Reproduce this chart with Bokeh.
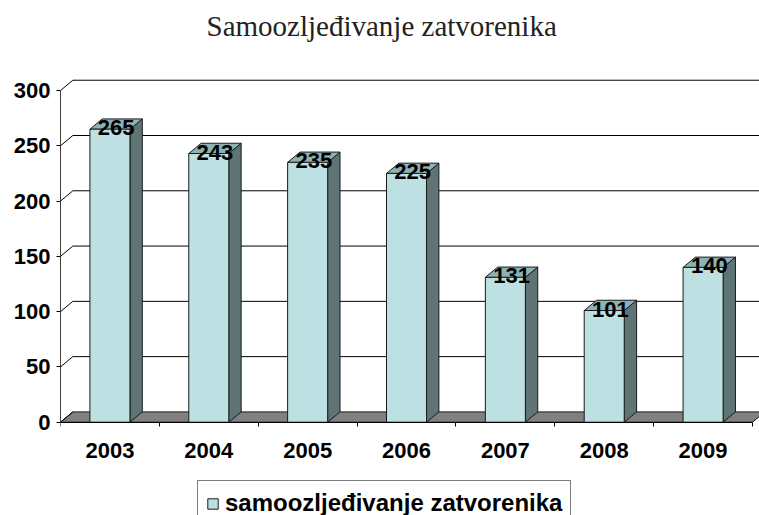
from bokeh.plotting import figure
from bokeh.models import Range1d, FixedTicker, Legend, LegendItem, ColumnDataSource, Title
from bokeh.core.properties import value
from bokeh.embed import file_html
from bokeh.resources import INLINE

# ---- data ----
years = ["2003", "2004", "2005", "2006", "2007", "2008", "2009"]
counts = [265, 243, 235, 225, 131, 101, 140]
y_ticks = [0, 50, 100, 150, 200, 250, 300]
title_text = "Samoozljeđivanje zatvorenika"
series_name = "samoozljeđivanje zatvorenika"

# ---- style ----
FRONT = "#BDE0E3"
SIDE = "#5F7575"
TOP = "#8DB2B4"
FLOOR = "#808080"
EDGE = "#1a1a1a"
bar_w = 0.405
dx = 0.125   # depth offset (category units)
dy = 9.3     # depth offset (value units)

n = len(years)
centers = [i + 0.5 for i in range(n)]

p = figure(width=759, height=515, output_backend="svg", toolbar_location=None,
           x_range=Range1d(0, 7.0706), y_range=Range1d(-84.4, 318.1),
           min_border_left=60, min_border_right=0, min_border_top=70, min_border_bottom=0,
           background_fill_color="white", border_fill_color="white")
p.outline_line_color = None
p.xgrid.visible = False
p.ygrid.visible = False

# title
p.title.text = title_text
p.title.text_font = "Liberation Serif"
p.title.text_font_size = "29px"
p.title.text_font_style = "normal"
p.title.text_color = "#222222"
p.title.align = "left"
p.title.offset = 146
p.title.standoff = 10
# blank spacer between title and plot area
p.add_layout(Title(text=" ", text_font_size="12px", standoff=8), "above")

# floor
p.patch(x=[0, n, n + dx, dx], y=[0, 0, dy, dy], fill_color=FLOOR, line_color=EDGE, line_width=1)

# back-wall gridlines and left-wall diagonals
grid_vals = [v for v in y_ticks if v > 0]
p.segment(x0=[dx] * len(grid_vals), y0=[v + dy for v in grid_vals],
          x1=[n + dx] * len(grid_vals), y1=[v + dy for v in grid_vals],
          line_color="black", line_width=1)
p.segment(x0=[0] * len(y_ticks), y0=y_ticks, x1=[dx] * len(y_ticks), y1=[v + dy for v in y_ticks],
          line_color="black", line_width=1)

# bars: side, top, front
lefts = [c - bar_w / 2 for c in centers]
rights = [c + bar_w / 2 for c in centers]
side_xs = [[r, r + dx, r + dx, r] for r in rights]
side_ys = [[0, dy, v + dy, v] for v in counts]
top_xs = [[l, r, r + dx, l + dx] for l, r in zip(lefts, rights)]
top_ys = [[v, v, v + dy, v + dy] for v in counts]
p.patches(xs=side_xs, ys=side_ys, fill_color=SIDE, line_color=EDGE, line_width=1)
p.patches(xs=top_xs, ys=top_ys, fill_color=TOP, line_color=EDGE, line_width=1)
src = ColumnDataSource(dict(left=lefts, right=rights, top=counts, bottom=[0] * n,
                            lx=[c + dx / 2 for c in centers], ly=[v + 1.3 for v in counts],
                            lab=[str(v) for v in counts]))
front = p.quad(left="left", right="right", top="top", bottom="bottom", source=src,
               fill_color=FRONT, line_color=EDGE, line_width=1)

# value labels
p.text(x="lx", y="ly", text="lab", source=src, text_align="center", text_baseline="alphabetic",
       text_font=value("Liberation Sans"), text_font_style="bold", text_font_size="22px",
       text_color="black")

# axes
p.yaxis.ticker = FixedTicker(ticks=y_ticks)
p.yaxis.bounds = (0, 300)
p.yaxis.axis_line_color = "#404040"
p.yaxis.major_tick_in = 0
p.yaxis.major_tick_out = 4
p.yaxis.minor_tick_line_color = None
p.yaxis.major_label_standoff = 6
p.yaxis.major_label_text_font = "Liberation Sans"
p.yaxis.major_label_text_font_style = "bold"
p.yaxis.major_label_text_font_size = "22px"
p.yaxis.major_label_text_color = "black"

p.xaxis.fixed_location = 0
p.xaxis.ticker = FixedTicker(ticks=centers, minor_ticks=list(range(n + 1)))
p.xaxis.major_label_overrides = {c: y for c, y in zip(centers, years)}
p.xaxis.bounds = (0, n)
p.xaxis.axis_line_color = "black"
p.xaxis.major_tick_line_color = None
p.xaxis.major_tick_in = 0
p.xaxis.major_tick_out = 0
p.xaxis.minor_tick_in = 0
p.xaxis.minor_tick_out = 4
p.xaxis.minor_tick_line_color = "black"
p.xaxis.major_label_standoff = 17
p.xaxis.major_label_text_font = "Liberation Sans"
p.xaxis.major_label_text_font_style = "bold"
p.xaxis.major_label_text_font_size = "22px"
p.xaxis.major_label_text_color = "black"

# legend
legend = Legend(items=[LegendItem(label=series_name, renderers=[front])],
                location=(137, -11), orientation="horizontal",
                border_line_color="black", border_line_width=1,
                background_fill_color="white", background_fill_alpha=1,
                padding=8, margin=0, spacing=0, glyph_width=13, glyph_height=13, label_standoff=6,
                label_text_font="Liberation Sans", label_text_font_style="bold",
                label_text_font_size="24px", label_text_color="black")
p.add_layout(legend, "center")

open("out.html", "w").write(file_html(p, INLINE))
